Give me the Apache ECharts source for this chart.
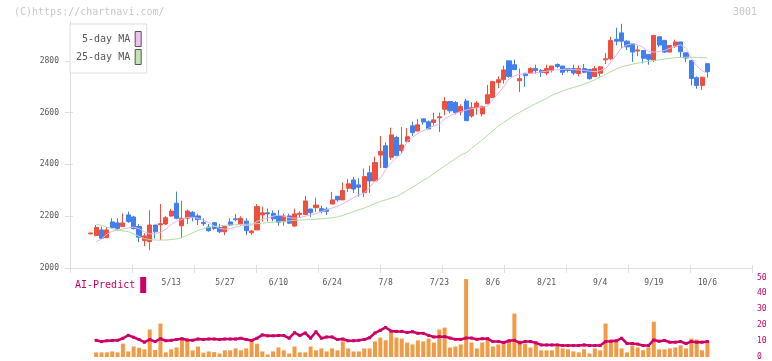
<!DOCTYPE html>
<html><head><meta charset="utf-8">
<script src="https://cdn.jsdelivr.net/npm/echarts@6/dist/echarts.min.js"></script>
<style>html,body{margin:0;padding:0;background:#fff}#c{width:772px;height:361px}</style>
</head><body><div id="c"></div>
<script>
const dates = ['4/17','4/18','4/21','4/22','4/23','4/24','4/25','4/28','4/30',
'5/1','5/2','5/7','5/8','5/9','5/12','5/13','5/14','5/15','5/16','5/19','5/20','5/21','5/22','5/23','5/26','5/27','5/28','5/29','5/30',
'6/2','6/3','6/4','6/5','6/6','6/9','6/10','6/11','6/12','6/13','6/16','6/17','6/18','6/19','6/20','6/23','6/24','6/25','6/26','6/27','6/30',
'7/1','7/2','7/3','7/4','7/7','7/8','7/9','7/10','7/11','7/14','7/15','7/16','7/17','7/18','7/22','7/23','7/24','7/25','7/28','7/29','7/30','7/31',
'8/1','8/4','8/5','8/6','8/7','8/8','8/12','8/13','8/14','8/15','8/18','8/19','8/20','8/21','8/22','8/25','8/26','8/27','8/28','8/29',
'9/1','9/2','9/3','9/4','9/5','9/8','9/9','9/10','9/11','9/12','9/16','9/17','9/18','9/19','9/22','9/24','9/25','9/26','9/29','9/30',
'10/1','10/2','10/3','10/6'];
const tickLabels = ['5/13','5/27','6/10','6/24','7/8','7/23','8/6','8/21','9/4','9/19','10/6'];
const priceTicks = [2000,2200,2400,2600,2800];

const opens = [2132,2125,2147,2117,2178,2174,2160,2205,2197,2160,2106,2102,2166,2167,2170,2201,2250,2163,2192,2215,
2201,2176,2158,2175,2156,2140,2178,2190,2170,2181,2136,2147,2205,2213,2211,2201,2179,2201,2162,2207,
2207,2228,2233,2229,2227,2247,2277,2263,2308,2340,2321,2291,2368,2336,2436,2472,2428,2504,2453,2488,
2549,2529,2576,2565,2562,2580,2613,2643,2639,2603,2645,2587,2619,2595,2634,2658,2716,2727,2800,2785,
2723,2752,2753,2770,2763,2753,2763,2786,2780,2770,2770,2751,2770,2767,2739,2752,2804,2808,2883,2908,
2876,2866,2838,2840,2825,2803,2893,2879,2834,2857,2873,2831,2801,2735,2705,2789];
const closes = [2135,2157,2115,2147,2156,2153,2174,2179,2152,2119,2124,2166,2140,2171,2194,2220,2192,2192,2220,2196,
2187,2171,2144,2153,2140,2160,2166,2187,2192,2144,2143,2237,2213,2209,2190,2177,2201,2173,2209,2211,
2259,2214,2243,2219,2219,2263,2263,2299,2325,2305,2312,2353,2336,2407,2450,2388,2514,2434,2475,2507,
2523,2553,2564,2537,2572,2584,2643,2607,2600,2624,2569,2619,2637,2624,2669,2720,2727,2765,2740,2766,
2731,2743,2770,2763,2755,2770,2780,2778,2756,2763,2753,2770,2756,2731,2770,2777,2808,2879,2876,2876,
2854,2834,2842,2810,2806,2898,2861,2834,2859,2873,2835,2811,2732,2705,2737,2758];
const lows = [2130,2125,2113,2117,2151,2144,2160,2174,2149,2100,2084,2069,2114,2108,2166,2198,2188,2115,2170,2180,
2166,2162,2140,2146,2135,2127,2162,2180,2163,2127,2128,2147,2179,2180,2180,2163,2163,2170,2159,2194,
2205,2197,2216,2211,2205,2247,2256,2263,2294,2290,2276,2274,2290,2336,2386,2388,2418,2434,2442,2485,
2510,2529,2553,2537,2550,2525,2590,2598,2593,2590,2569,2580,2592,2585,2634,2658,2694,2712,2735,2766,
2680,2700,2750,2750,2738,2745,2755,2772,2745,2755,2745,2740,2752,2728,2739,2740,2788,2802,2860,2850,
2842,2796,2818,2790,2785,2795,2853,2830,2834,2850,2812,2795,2705,2692,2688,2735];
const highs = [2137,2166,2160,2158,2192,2192,2211,2218,2201,2170,2134,2223,2166,2247,2201,2228,2295,2260,2226,2220,
2210,2192,2170,2178,2170,2160,2192,2208,2200,2192,2147,2247,2237,2230,2222,2224,2210,2210,2229,2219,
2278,2228,2271,2240,2235,2294,2277,2330,2343,2352,2347,2384,2396,2430,2510,2485,2542,2510,2544,2540,
2565,2575,2576,2570,2600,2600,2660,2643,2645,2632,2653,2640,2645,2627,2707,2720,2740,2781,2800,2805,
2770,2752,2775,2785,2768,2785,2780,2790,2780,2770,2785,2782,2788,2767,2780,2780,2830,2893,2928,2943,
2880,2866,2858,2840,2825,2898,2893,2879,2859,2882,2873,2831,2801,2740,2737,2789];

const ma5 = ['-',2102,2112,2130,2142,2146,2150,2155,2158,2152,2140,2132,2132,2138,2150,2168,2180,2188,2195,2196,
2192,2185,2175,2163,2153,2150,2152,2158,2163,2165,2166,2180,2188,2192,2200,2205,2200,2194,2192,2195,
2200,2205,2210,2218,2225,2232,2238,2248,2260,2272,2282,2290,2310,2335,2345,2380,2405,2425,2443,2490,
2505,2520,2530,2540,2548,2555,2575,2588,2597,2604,2610,2615,2618,2622,2625,2650,2675,2700,2730,2742,
2748,2750,2752,2754,2757,2760,2763,2765,2767,2768,2766,2765,2763,2760,2758,2762,2770,2795,2822,2850,
2862,2866,2862,2852,2836,2834,2836,2840,2848,2856,2862,2848,2810,2780,2762,2752];
const ma25 = ['-',2169,2165,2158,2152,2147,2143,2140,2132,2122,2114,2110,2108,2108,2108,2110,2112,2118,2126,2136,
2145,2152,2157,2160,2163,2165,2166,2167,2168,2169,2170,2171,2173,2175,2177,2178,2180,2182,2184,2185,
2186,2187,2188,2190,2192,2194,2197,2203,2210,2218,2225,2231,2240,2249,2257,2263,2270,2276,2287,2300,
2312,2325,2338,2350,2365,2380,2394,2408,2422,2436,2445,2462,2478,2495,2512,2530,2548,2562,2576,2590,
2601,2613,2624,2635,2645,2655,2667,2675,2684,2691,2697,2703,2710,2718,2727,2737,2748,2758,2768,2777,
2782,2787,2791,2795,2798,2801,2804,2807,2810,2812,2813,2814,2814,2813,2812,2811];

const barValues = ['-',2.9,2.9,2.9,3.5,2.9,8.4,3.5,6.6,5.8,4.8,17.3,4.4,21,2.9,4.8,6,11,10.2,4.2,
6.6,2.7,3.5,3.1,2.2,4.2,4.2,5.4,4.2,5.4,10.4,8.4,3.5,1.6,3.5,6,4.2,2.2,6.6,2.9,
2.9,6.6,4.2,5.4,3.5,5.4,4.2,9.8,5.4,3.5,3.5,5.4,5.4,9.8,12.2,10.5,16,12.2,11.6,9.1,
7.9,10.4,9.8,11.6,9.1,17.3,18.5,6,6.6,7.9,49,9.1,5.4,9.1,12.2,6.6,7.9,9.1,9.8,27.3,
10.4,8.4,6,9.8,4.2,4.2,4.2,6.6,5.4,4.8,3.5,2.9,4.8,2.2,5.4,4.2,21,11,10.4,5.4,
2.9,7.3,6,4.2,6,22.2,4.8,4.8,5.4,6,7.3,5.4,11.6,11,4.2,10.4];
const aiPredict = ['-',10.5,9.7,10.2,10.4,10.5,11.8,13.6,12.4,11,9.3,11,9.7,11.5,10.2,10.5,11,11.5,10.7,10.5,
11.3,11,11.3,11.3,11,11.3,11.3,11.3,11.8,11,10.4,11.8,13.9,13.3,13.3,13.5,13.5,11.8,15.3,13.5,
15.1,11.8,15.9,11.8,12.6,12.6,11,11.3,10.2,10.2,10.5,11,12.1,15.1,16.8,18.6,16.3,16.1,16.1,15.4,
15.9,14.9,14.9,13.6,12.6,12.8,12.8,11.9,11.1,11.1,11.9,11.9,11.1,11.5,11.5,9.7,9.7,9.1,10.2,10.5,
8.9,9.7,9.7,8.9,7.6,7.6,7.6,7.6,7.2,7.2,7.2,7.2,7.6,7.2,7.2,7.2,9.7,9.9,10.2,11.8,
8.5,8.5,8.1,7.2,7.2,10.7,9.9,10.4,9.3,9.3,9.7,8.5,9.7,9.3,9.3,9.7];

const PAD_L = 3, PAD_R = 8;
const pad = (arr, v) => Array(PAD_L).fill(v).concat(arr, Array(PAD_R).fill(v));
const cats = pad(dates, '');
const candleData = pad(dates.map((d, i) => [opens[i], closes[i], lows[i], highs[i]]), '-');

const FONT = 'DejaVu Sans Mono';
const RED = '#ef4f3d', BLUE = '#3f7fef', AXIS = '#dddddd', MAG = '#cc0066';

const chart = echarts.init(document.getElementById('c'), null, {renderer: 'canvas'});
chart.setOption({
  animation: false,
  backgroundColor: '#fff',
  title: [
    {text: '(C)https://chartnavi.com/', left: 9, top: 2, textStyle: {fontFamily: FONT, fontSize: 10, fontWeight: 'normal', color: '#c8c8c8'}},
    {text: '3001', right: 10, top: 2, textStyle: {fontFamily: FONT, fontSize: 10, fontWeight: 'normal', color: '#c8c8c8'}}
  ],
  legend: [
    {
      data: [
        {name: '5-day MA', itemStyle: {color: '#f0c0f0', borderColor: '#555', borderWidth: 1}},
        {name: '25-day MA', itemStyle: {color: '#c4e2b4', borderColor: '#555', borderWidth: 1}}
      ],
      formatter: n => n.padStart(9, ' '),
      orient: 'vertical', left: 70, top: 24, align: 'right', icon: 'rect',
      itemWidth: 6, itemHeight: 15, itemGap: 2, padding: [7, 5, 8, 6],
      backgroundColor: '#fff', borderColor: AXIS, borderWidth: 1, selectedMode: false,
      textStyle: {fontFamily: FONT, fontSize: 10, color: '#555'}
    },
    {
      data: [{name: 'AI-Predict', itemStyle: {color: MAG}}],
      left: 75, top: 277, align: 'right', icon: 'rect', itemWidth: 6, itemHeight: 16, padding: 0,
      selectedMode: false, textStyle: {fontFamily: FONT, fontSize: 10, color: MAG}
    }
  ],
  grid: [
    {left: 70, right: 20, top: 22, bottom: 93},
    {left: 72, right: 19, top: 22, bottom: 93},
    {left: 72, right: 19, top: 277.5, bottom: 3.5}
  ],
  xAxis: [
    {type: 'value', gridIndex: 0, min: 0, max: 11, interval: 1, position: 'bottom',
     axisLine: {show: true, lineStyle: {color: AXIS}}, axisTick: {show: true, length: 5, lineStyle: {color: AXIS}},
     axisLabel: {show: false}, splitLine: {show: false}},
    {type: 'value', gridIndex: 0, min: 0, max: 11, interval: 1, position: 'bottom',
     axisLine: {show: false}, axisTick: {show: true, inside: true, length: 3, lineStyle: {color: AXIS}},
     axisLabel: {show: false}, splitLine: {show: false}},
    {type: 'category', gridIndex: 1, data: cats, boundaryGap: true, position: 'bottom',
     axisLine: {show: false}, axisTick: {show: false}, splitLine: {show: false},
     axisLabel: {interval: (i, v) => tickLabels.includes(v), margin: 11, fontFamily: FONT, fontSize: 8, color: '#555'}},
    {type: 'category', gridIndex: 2, data: cats, boundaryGap: true, show: false}
  ],
  yAxis: [
    {type: 'value', gridIndex: 0, min: 2000, max: 2950, interval: 200, position: 'left',
     axisLine: {show: true, lineStyle: {color: AXIS}},
     axisTick: {show: true, length: 5, lineStyle: {color: AXIS}, customValues: priceTicks},
     axisLabel: {margin: 11, fontFamily: FONT, fontSize: 8, color: '#555', customValues: priceTicks, formatter: v => String(v)},
     splitLine: {show: false}},
    {type: 'value', gridIndex: 0, min: 2000, max: 2950, interval: 200, position: 'left',
     axisLine: {show: false},
     axisTick: {show: true, inside: true, length: 3, lineStyle: {color: AXIS}, customValues: priceTicks},
     axisLabel: {show: false}, splitLine: {show: false}},
    {type: 'value', gridIndex: 1, min: 2000, max: 2950, show: false},
    {type: 'value', gridIndex: 2, min: 0, max: 50, interval: 10, position: 'right',
     axisLine: {show: false}, axisTick: {show: false}, splitLine: {show: false},
     axisLabel: {margin: 4, fontFamily: FONT, fontSize: 8, color: MAG, formatter: v => String(v)}}
  ],
  series: [
    {type: 'candlestick', name: 'price', xAxisIndex: 2, yAxisIndex: 2, data: candleData, barWidth: 4.6,
     itemStyle: {color: RED, color0: BLUE, borderColor: RED, borderColor0: BLUE, borderWidth: 1}},
    {type: 'line', name: '5-day MA', xAxisIndex: 2, yAxisIndex: 2, data: pad(ma5, '-'), showSymbol: false,
     lineStyle: {color: '#e8b4ec', width: 1}, itemStyle: {color: '#f0c0f0'}},
    {type: 'line', name: '25-day MA', xAxisIndex: 2, yAxisIndex: 2, data: pad(ma25, '-'), showSymbol: false,
     lineStyle: {color: '#b4dca4', width: 1}, itemStyle: {color: '#c4e2b4'}},
    {type: 'bar', name: 'bars', xAxisIndex: 3, yAxisIndex: 3, data: pad(barValues, '-'), barWidth: 4,
     itemStyle: {color: '#f39a45'}},
    {type: 'line', name: 'AI-Predict', xAxisIndex: 3, yAxisIndex: 3, data: pad(aiPredict, '-'),
     symbol: 'rect', symbolSize: 3, showSymbol: true,
     lineStyle: {color: MAG, width: 2.5}, itemStyle: {color: MAG}}
  ]
});
</script>
</body></html>
